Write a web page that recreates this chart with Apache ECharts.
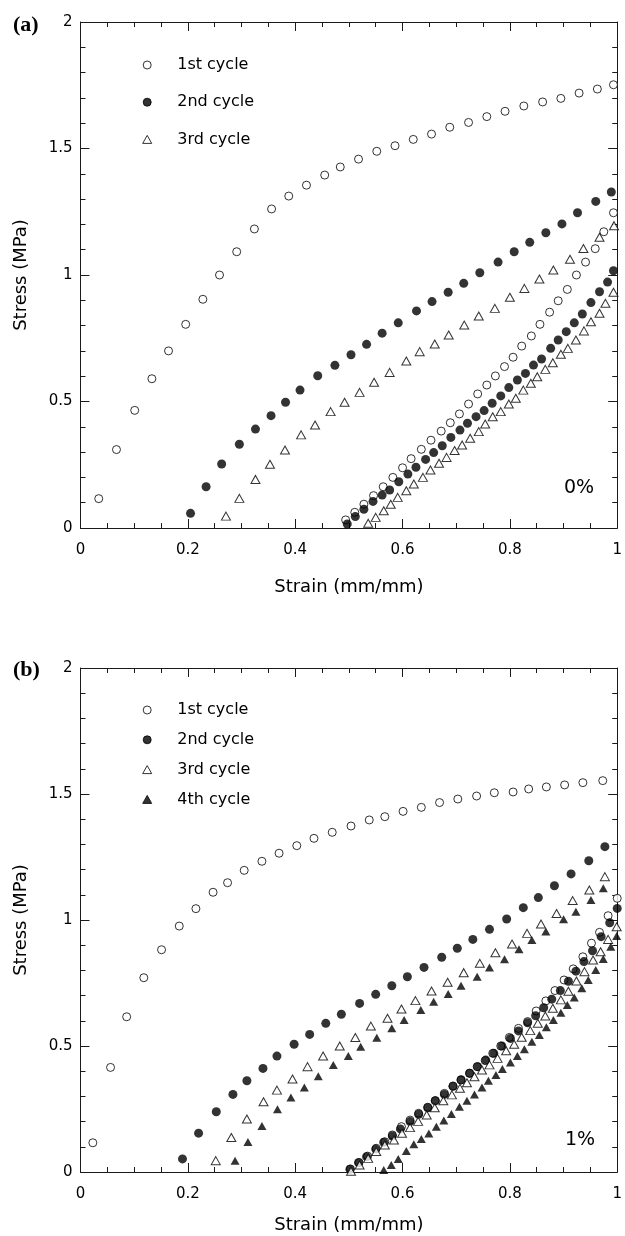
<!DOCTYPE html>
<html>
<head>
<meta charset="utf-8">
<script src="https://cdn.jsdelivr.net/npm/echarts@6/dist/echarts.min.js"></script>
<style>
html,body{margin:0;padding:0;background:#fff;}
#chart{width:625px;height:1236px;}
</style>
</head>
<body>
<div id="chart"></div>
<script>
// ---------- tick / axis settings ----------
var xTicks = [0, 0.2, 0.4, 0.6, 0.8, 1];
var yTicks = [0, 0.5, 1, 1.5, 2];
var cycleNamesA = ['1st cycle', '2nd cycle', '3rd cycle'];
var cycleNamesB = ['1st cycle', '2nd cycle', '3rd cycle', '4th cycle'];
var panelLabels = ['(a)', '(b)'];
var panelNotes = ['0%', '1%'];

// ---------- panel (a) : 0% ----------
var a1Load = [[0.034,0.116],[0.067,0.31],[0.101,0.465],[0.133,0.59],[0.164,0.70],[0.196,0.805],[0.228,0.904],[0.259,1.0],[0.291,1.092],[0.324,1.182],[0.356,1.261],[0.388,1.312],[0.421,1.355],[0.455,1.395],[0.484,1.427],[0.518,1.458],[0.552,1.489],[0.586,1.511],[0.620,1.536],[0.654,1.557],[0.688,1.584],[0.723,1.603],[0.757,1.626],[0.791,1.647],[0.826,1.668],[0.861,1.684],[0.895,1.698],[0.929,1.719],[0.963,1.735],[0.993,1.752]];
var a1Unload = [[0.993,1.246],[0.975,1.171],[0.959,1.104],[0.941,1.051],[0.924,1.0],[0.907,0.943],[0.890,0.898],[0.874,0.853],[0.856,0.805],[0.840,0.759],[0.822,0.719],[0.806,0.675],[0.790,0.638],[0.773,0.601],[0.757,0.565],[0.740,0.530],[0.723,0.490],[0.706,0.451],[0.689,0.416],[0.672,0.383],[0.653,0.347],[0.635,0.311],[0.616,0.274],[0.600,0.238],[0.582,0.200],[0.564,0.163],[0.546,0.128],[0.528,0.094],[0.511,0.062],[0.494,0.032]];
var a2Load = [[0.205,0.058],[0.234,0.163],[0.263,0.253],[0.296,0.331],[0.326,0.391],[0.355,0.444],[0.382,0.497],[0.409,0.545],[0.442,0.602],[0.474,0.643],[0.504,0.685],[0.533,0.726],[0.562,0.770],[0.592,0.811],[0.626,0.858],[0.655,0.895],[0.685,0.932],[0.714,0.967],[0.744,1.009],[0.778,1.051],[0.808,1.092],[0.837,1.129],[0.867,1.167],[0.897,1.202],[0.926,1.246],[0.960,1.291],[0.989,1.328]];
var a2Unload = [[0.993,1.017],[0.982,0.972],[0.967,0.934],[0.951,0.891],[0.935,0.846],[0.920,0.811],[0.905,0.776],[0.890,0.743],[0.876,0.710],[0.859,0.668],[0.844,0.644],[0.829,0.611],[0.814,0.585],[0.798,0.555],[0.783,0.522],[0.767,0.493],[0.752,0.464],[0.737,0.440],[0.721,0.414],[0.707,0.387],[0.690,0.358],[0.674,0.325],[0.658,0.298],[0.643,0.271],[0.625,0.240],[0.610,0.213],[0.593,0.183],[0.576,0.150],[0.562,0.130],[0.545,0.105],[0.528,0.074],[0.512,0.045],[0.497,0.016]];
var a3Load = [[0.271,0.047],[0.296,0.117],[0.326,0.192],[0.353,0.252],[0.381,0.308],[0.411,0.368],[0.437,0.407],[0.466,0.460],[0.492,0.497],[0.520,0.536],[0.547,0.576],[0.576,0.615],[0.607,0.660],[0.632,0.697],[0.660,0.727],[0.686,0.763],[0.715,0.802],[0.742,0.838],[0.772,0.868],[0.800,0.912],[0.827,0.947],[0.855,0.984],[0.881,1.020],[0.912,1.062],[0.937,1.105],[0.967,1.149],[0.994,1.195]];
var a3Unload = [[0.993,0.932],[0.978,0.888],[0.967,0.849],[0.951,0.815],[0.938,0.779],[0.923,0.743],[0.908,0.710],[0.895,0.687],[0.880,0.653],[0.866,0.627],[0.851,0.598],[0.839,0.572],[0.825,0.545],[0.811,0.513],[0.798,0.490],[0.783,0.460],[0.768,0.440],[0.754,0.411],[0.742,0.381],[0.726,0.355],[0.711,0.328],[0.697,0.306],[0.682,0.279],[0.668,0.256],[0.652,0.229],[0.638,0.200],[0.621,0.174],[0.607,0.147],[0.591,0.121],[0.578,0.094],[0.565,0.068],[0.550,0.042],[0.536,0.019]];

// ---------- panel (b) : 1% ----------
var b1Load = [[0.023,0.116],[0.056,0.415],[0.086,0.616],[0.118,0.771],[0.151,0.882],[0.184,0.976],[0.215,1.045],[0.247,1.110],[0.274,1.148],[0.305,1.197],[0.338,1.233],[0.370,1.265],[0.403,1.295],[0.435,1.324],[0.469,1.348],[0.504,1.373],[0.538,1.397],[0.567,1.410],[0.601,1.431],[0.635,1.447],[0.669,1.466],[0.703,1.480],[0.738,1.492],[0.771,1.505],[0.806,1.508],[0.835,1.520],[0.868,1.528],[0.902,1.536],[0.936,1.545],[0.973,1.553]];
var b1Unload = [[1.0,1.086],[0.983,1.017],[0.967,0.951],[0.952,0.908],[0.936,0.854],[0.918,0.806],[0.901,0.762],[0.884,0.720],[0.867,0.679],[0.849,0.639],[0.833,0.597],[0.816,0.570],[0.799,0.534],[0.783,0.500],[0.768,0.471],[0.754,0.442],[0.739,0.418],[0.725,0.392],[0.709,0.365],[0.694,0.341],[0.678,0.312],[0.661,0.283],[0.647,0.257],[0.630,0.233],[0.614,0.206],[0.598,0.180],[0.581,0.147],[0.567,0.120],[0.551,0.094],[0.535,0.063],[0.519,0.038],[0.503,0.012]];
var b2Load = [[0.190,0.052],[0.220,0.154],[0.253,0.239],[0.284,0.308],[0.310,0.362],[0.340,0.411],[0.366,0.460],[0.398,0.507],[0.427,0.546],[0.457,0.590],[0.486,0.626],[0.520,0.669],[0.550,0.705],[0.580,0.739],[0.609,0.775],[0.640,0.812],[0.673,0.852],[0.702,0.888],[0.731,0.923],[0.762,0.963],[0.794,1.004],[0.825,1.049],[0.853,1.089],[0.883,1.136],[0.914,1.183],[0.947,1.235],[0.977,1.291]];
var b2Unload = [[1.0,1.046],[0.986,0.989],[0.970,0.934],[0.954,0.878],[0.938,0.835],[0.923,0.797],[0.909,0.757],[0.894,0.720],[0.878,0.686],[0.863,0.652],[0.848,0.620],[0.833,0.592],[0.816,0.560],[0.801,0.530],[0.785,0.500],[0.770,0.471],[0.755,0.444],[0.740,0.418],[0.725,0.392],[0.709,0.366],[0.694,0.340],[0.678,0.308],[0.661,0.283],[0.647,0.255],[0.630,0.229],[0.614,0.200],[0.596,0.171],[0.581,0.143],[0.565,0.118],[0.550,0.091],[0.533,0.061],[0.518,0.037],[0.502,0.011]];
var b3Load = [[0.252,0.045],[0.281,0.137],[0.310,0.210],[0.341,0.279],[0.366,0.325],[0.395,0.369],[0.423,0.418],[0.452,0.460],[0.483,0.500],[0.512,0.534],[0.541,0.579],[0.572,0.610],[0.598,0.647],[0.624,0.680],[0.654,0.718],[0.684,0.753],[0.714,0.791],[0.744,0.828],[0.773,0.870],[0.804,0.905],[0.832,0.947],[0.858,0.984],[0.887,1.026],[0.917,1.077],[0.948,1.119],[0.977,1.172]];
var b3Unload = [[0.999,0.973],[0.983,0.923],[0.969,0.874],[0.955,0.841],[0.939,0.795],[0.924,0.758],[0.909,0.717],[0.895,0.683],[0.880,0.650],[0.866,0.619],[0.852,0.590],[0.838,0.561],[0.822,0.535],[0.808,0.507],[0.793,0.481],[0.777,0.451],[0.762,0.425],[0.748,0.405],[0.734,0.378],[0.720,0.354],[0.707,0.332],[0.692,0.306],[0.676,0.283],[0.660,0.255],[0.645,0.226],[0.629,0.201],[0.614,0.176],[0.599,0.154],[0.584,0.127],[0.567,0.107],[0.551,0.081],[0.536,0.054],[0.520,0.028],[0.504,0.003]];
var b4Load = [[0.288,0.045],[0.312,0.119],[0.338,0.183],[0.367,0.249],[0.392,0.296],[0.417,0.335],[0.443,0.380],[0.471,0.425],[0.499,0.460],[0.522,0.497],[0.552,0.533],[0.580,0.570],[0.603,0.603],[0.634,0.643],[0.658,0.676],[0.685,0.706],[0.709,0.739],[0.739,0.775],[0.762,0.812],[0.790,0.844],[0.817,0.884],[0.841,0.921],[0.867,0.954],[0.900,1.003],[0.923,1.033],[0.951,1.079],[0.974,1.126]];
var b4Unload = [[0.999,0.937],[0.988,0.894],[0.974,0.845],[0.960,0.802],[0.946,0.762],[0.934,0.729],[0.920,0.692],[0.907,0.663],[0.895,0.632],[0.881,0.603],[0.868,0.574],[0.855,0.544],[0.841,0.517],[0.827,0.487],[0.814,0.460],[0.801,0.435],[0.786,0.409],[0.774,0.385],[0.760,0.362],[0.748,0.335],[0.734,0.308],[0.720,0.283],[0.706,0.259],[0.691,0.230],[0.677,0.204],[0.663,0.180],[0.649,0.153],[0.635,0.131],[0.621,0.110],[0.607,0.083],[0.592,0.052],[0.579,0.028],[0.565,0.008]];

// ---------- styles ----------
var FONT = 'DejaVu Sans';
var AX = '#1a1a1a';
var styles = {
  openCircle:   {symbol:'circle',   symbolSize:8,     itemStyle:{color:'#fff', borderColor:'#000', borderWidth:1}},
  fillCircle:   {symbol:'circle',   symbolSize:9,     itemStyle:{color:'#000', borderColor:'#000', borderWidth:0}},
  openTriangle: {symbol:'triangle', symbolSize:[9,8], itemStyle:{color:'#fff', borderColor:'#000', borderWidth:1}},
  fillTriangle: {symbol:'triangle', symbolSize:[9,8], itemStyle:{color:'#000', borderColor:'#000', borderWidth:0}}
};

function sc(name, data, st, gi) {
  return {
    type:'scatter', name:name, data:data,
    xAxisIndex: gi*2, yAxisIndex: gi*2,
    symbol: st.symbol, symbolSize: st.symbolSize, itemStyle: st.itemStyle,
    emphasis:{disabled:true}, silent:true, clip:false
  };
}

function xAxisDef(gi, pos, nameGap) {
  var main = pos === 'bottom';
  return {
    type:'value', gridIndex:gi, position:pos, min:xTicks[0], max:xTicks[xTicks.length-1],
    interval:xTicks[1]-xTicks[0],
    name: main ? 'Strain (mm/mm)' : '', nameLocation:'middle', nameGap:nameGap,
    nameTextStyle:{fontFamily:FONT, fontSize:18, color:'#000'},
    axisLine:{show:true, onZero:false, lineStyle:{color:AX, width:1}},
    axisTick:{show:true, inside:true, length:9, lineStyle:{color:AX, width:1}},
    minorTick:{show:true, splitNumber:4, length:5, lineStyle:{color:AX, width:1}},
    axisLabel:{show:main, fontFamily:FONT, fontSize:15, color:'#000', margin:15},
    splitLine:{show:false}
  };
}
function yAxisDef(gi, pos) {
  var main = pos === 'left';
  return {
    type:'value', gridIndex:gi, position:pos, min:yTicks[0], max:yTicks[yTicks.length-1],
    interval:yTicks[1]-yTicks[0],
    name: main ? 'Stress (MPa)' : '', nameLocation:'middle', nameGap:50,
    nameTextStyle:{fontFamily:FONT, fontSize:18, color:'#000'},
    axisLine:{show:true, onZero:false, lineStyle:{color:AX, width:1}},
    axisTick:{show:true, inside:true, length:9, lineStyle:{color:AX, width:1}},
    minorTick:{show:true, splitNumber:5, length:5, lineStyle:{color:AX, width:1}},
    axisLabel:{show:main, fontFamily:FONT, fontSize:15, color:'#000', margin:8},
    splitLine:{show:false}
  };
}

function legendDef(names, top, gap) {
  return {
    data:names, orient:'vertical', left:142.2, top:top, padding:0,
    itemWidth:9, itemHeight:8, itemGap:gap, selectedMode:false,
    itemStyle:{borderWidth:1},
    textStyle:{fontFamily:FONT, fontSize:16, lineHeight:16, color:'#000', padding:[0,0,0,20.5]}
  };
}

var option = {
  animation:false,
  backgroundColor:'#fff',
  title:[
    {text:panelLabels[0], left:13, top:14, padding:0, textStyle:{fontFamily:'Liberation Serif', fontWeight:'bold', fontSize:22, color:'#000'}},
    {text:panelLabels[1], left:13, top:659, padding:0, textStyle:{fontFamily:'Liberation Serif', fontWeight:'bold', fontSize:22, color:'#000'}},
    {text:panelNotes[0], left:564, top:479, padding:0, textStyle:{fontFamily:FONT, fontSize:19, fontWeight:'normal', color:'#000'}},
    {text:panelNotes[1], left:565, top:1131, padding:0, textStyle:{fontFamily:FONT, fontSize:19, fontWeight:'normal', color:'#000'}}
  ],
  legend:[ legendDef(cycleNamesA, 57, 21.2), legendDef(cycleNamesB, 702, 13.8) ],
  grid:[
    {left:80.5, right:6, top:22, height:506, containLabel:false},
    {left:80.5, right:6, top:668, height:504, containLabel:false}
  ],
  xAxis:[ xAxisDef(0,'bottom',50), xAxisDef(0,'top',0), xAxisDef(1,'bottom',44), xAxisDef(1,'top',0) ],
  yAxis:[ yAxisDef(0,'left'), yAxisDef(0,'right'), yAxisDef(1,'left'), yAxisDef(1,'right') ],
  series:[
    sc(cycleNamesA[0], a1Load, styles.openCircle, 0),
    sc(cycleNamesA[0], a1Unload, styles.openCircle, 0),
    sc(cycleNamesA[1], a2Load, styles.fillCircle, 0),
    sc(cycleNamesA[1], a2Unload, styles.fillCircle, 0),
    sc(cycleNamesA[2], a3Load, styles.openTriangle, 0),
    sc(cycleNamesA[2], a3Unload, styles.openTriangle, 0),
    sc(cycleNamesB[0], b1Load, styles.openCircle, 1),
    sc(cycleNamesB[0], b1Unload, styles.openCircle, 1),
    sc(cycleNamesB[1], b2Load, styles.fillCircle, 1),
    sc(cycleNamesB[1], b2Unload, styles.fillCircle, 1),
    sc(cycleNamesB[2], b3Load, styles.openTriangle, 1),
    sc(cycleNamesB[2], b3Unload, styles.openTriangle, 1),
    sc(cycleNamesB[3], b4Load, styles.fillTriangle, 1),
    sc(cycleNamesB[3], b4Unload, styles.fillTriangle, 1)
  ]
};

var chart = echarts.init(document.getElementById('chart'), null, {renderer:'canvas'});
chart.setOption(option);
</script>
</body>
</html>
